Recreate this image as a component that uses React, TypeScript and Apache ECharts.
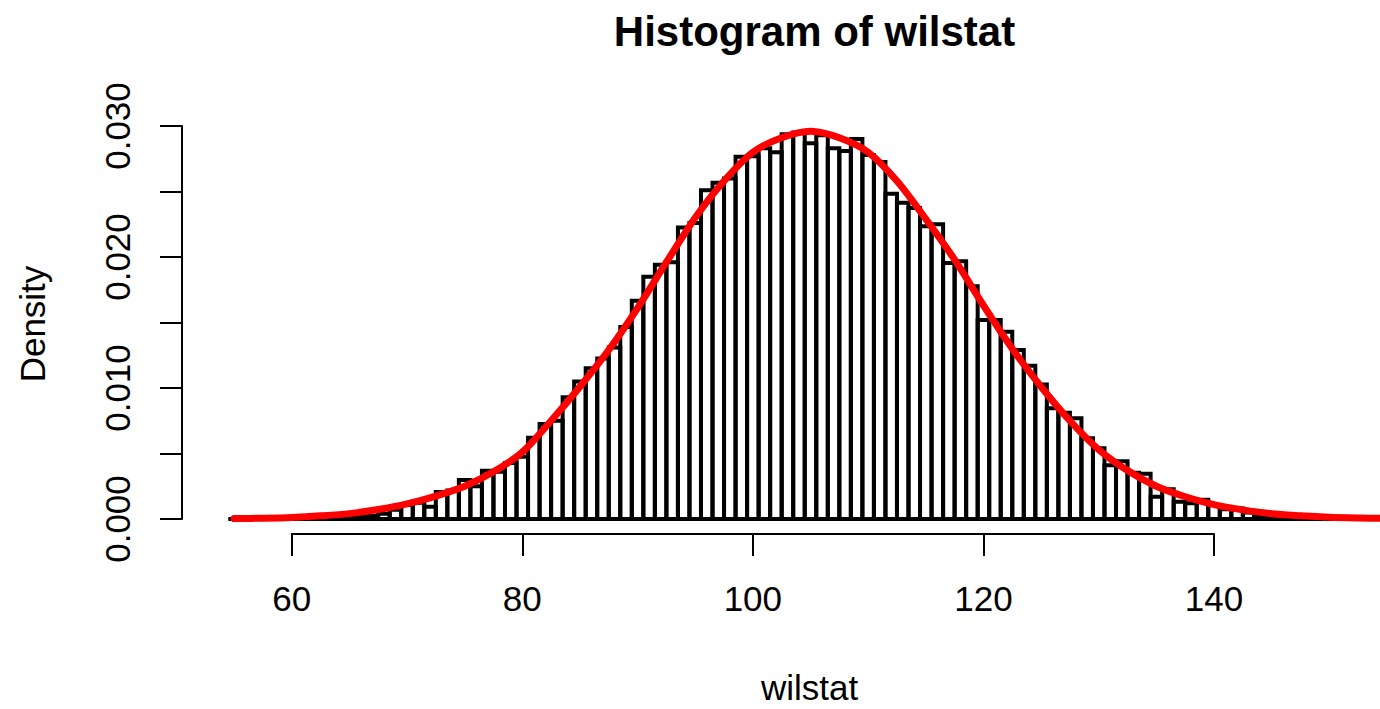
import { useEffect, useRef } from "react";
import * as echarts from "echarts";

// Histogram bins (width 1, centred on integers 55..155)
const binCenters = [
  55, 56, 57, 58, 59, 60, 61, 62, 63, 64, 65, 66, 67, 68, 69, 70, 71, 72, 73, 74,
  75, 76, 77, 78, 79, 80, 81, 82, 83, 84, 85, 86, 87, 88, 89, 90, 91, 92, 93, 94,
  95, 96, 97, 98, 99, 100, 101, 102, 103, 104, 105, 106, 107, 108, 109, 110, 111, 112, 113, 114,
  115, 116, 117, 118, 119, 120, 121, 122, 123, 124, 125, 126, 127, 128, 129, 130, 131, 132, 133, 134,
  135, 136, 137, 138, 139, 140, 141, 142, 143, 144, 145, 146, 147, 148, 149, 150, 151, 152, 153, 154, 155,
];
const binDensity = [
  0, 0, 0, 0, 0, 0, 0, 0,
  0.00002, 0.00004, 0.00008, 0.00015, 0.00025, 0.0004, 0.0007, 0.00107, 0.00125, 0.00094,
  0.00207, 0.00218, 0.00298, 0.0025, 0.00369, 0.0036, 0.00428, 0.00476, 0.0062, 0.00725,
  0.0075, 0.0093, 0.0105, 0.0115, 0.01226, 0.0131, 0.01466, 0.01667, 0.0185, 0.0194,
  0.0196, 0.02226, 0.0226, 0.0251, 0.02567, 0.026, 0.02766, 0.0277, 0.0283, 0.028,
  0.02937, 0.0295, 0.02868, 0.0293, 0.0283, 0.0281, 0.029, 0.02779, 0.02725, 0.02483,
  0.02415, 0.02375, 0.02235, 0.0225, 0.01955, 0.01968, 0.01776, 0.01519, 0.0152, 0.0143,
  0.0129, 0.0117, 0.01027, 0.00845, 0.00812, 0.00769, 0.00616, 0.0054, 0.0041, 0.0044,
  0.00354, 0.00346, 0.0017, 0.00228, 0.00132, 0.0012, 0.00147, 0.00107, 0.00074, 0.0008,
  0.0005, 0.0003, 0.0002, 0.0001, 0.00005, 0, 0, 0, 0, 0,
  0, 0, 0,
];

// Red density curve
const curveX = [
  55, 57.5, 60, 62.5, 65, 67.5, 70, 72.5, 75, 77.5, 80, 82.5, 85, 87.5, 90, 92.5, 95, 97.5, 100, 102.5,
  105, 107.5, 110, 112.5, 115, 117.5, 120, 122.5, 125, 127.5, 130, 132.5, 135, 137.5, 140, 142.5, 145, 147.5,
  150, 152.5, 155,
];
const curveDensity = [
  0.00003, 0.00006, 0.00012, 0.00024, 0.00041, 0.00072, 0.00115, 0.00175, 0.0025, 0.0036,
  0.0051, 0.0075, 0.0101, 0.0129, 0.0161, 0.0196, 0.023, 0.0258, 0.028, 0.0291,
  0.0296, 0.0291, 0.028, 0.0258, 0.0229, 0.0198, 0.0163, 0.013, 0.0101, 0.0075,
  0.0053, 0.0037, 0.0025, 0.0017, 0.0011, 0.0007, 0.0004, 0.00025, 0.00014, 0.00008, 0.00004,
];

const xTicks = [60, 80, 100, 120, 140];
const yTickMin = 0;
const yTickMax = 0.03;
const yTickStep = 0.005;

const FONT = "'Liberation Sans', Arial, Helvetica, sans-serif";

export default function App() {
  const ref = useRef<HTMLDivElement>(null);

  useEffect(() => {
    if (!ref.current) return;
    const chart = echarts.init(ref.current, null, { renderer: "svg" });

    const histData = binCenters.map((c, i) => [c, binDensity[i]]);
    const curveData = curveX.map((x, i) => [x, curveDensity[i]]);

    chart.setOption({
      animation: false,
      backgroundColor: "#ffffff",
      textStyle: { fontFamily: FONT },
      title: {
        text: "Histogram of wilstat",
        left: 809.5,
        textAlign: "center",
        top: 5,
        textStyle: { fontSize: 42, fontWeight: "bold", color: "#000", fontFamily: FONT },
      },
      grid: [
        { left: 182, right: 0, top: 117, height: 418, outerBoundsMode: "none", containLabel: false },
        { left: 182, top: 126, height: 393, width: 10, outerBoundsMode: "none", containLabel: false },
        { left: 291.7, width: 922.3, top: 300, height: 234, outerBoundsMode: "none", containLabel: false },
      ],
      xAxis: [
        { gridIndex: 0, type: "value", min: 50.485, max: 154.397, show: false },
        { gridIndex: 1, type: "value", min: 0, max: 1, show: false },
        {
          gridIndex: 2,
          type: "value",
          min: xTicks[0],
          max: xTicks[xTicks.length - 1],
          interval: xTicks[1] - xTicks[0],
          position: "bottom",
          axisLine: { show: true, lineStyle: { color: "#000", width: 2 } },
          axisTick: { show: true, inside: false, length: 22, lineStyle: { color: "#000", width: 2 } },
          axisLabel: { show: true, fontSize: 35, color: "#000", margin: 47, fontFamily: FONT },
          splitLine: { show: false },
        },
      ],
      yAxis: [
        { gridIndex: 0, type: "value", min: -0.001221, max: 0.030687, show: false },
        {
          gridIndex: 1,
          type: "value",
          min: yTickMin,
          max: yTickMax,
          interval: yTickStep,
          position: "left",
          axisLine: { show: true, lineStyle: { color: "#000", width: 2 } },
          axisTick: { show: true, inside: false, length: 22, lineStyle: { color: "#000", width: 2 } },
          axisLabel: {
            show: true,
            rotate: 90,
            fontSize: 35,
            color: "#000",
            margin: 47,
            fontFamily: FONT,
            formatter: (v: number) => (Math.round(v * 1000) % 10 === 0 ? v.toFixed(3) : ""),
          },
          splitLine: { show: false },
        },
        { gridIndex: 2, type: "value", show: false },
      ],
      series: [
        {
          type: "custom",
          xAxisIndex: 0,
          yAxisIndex: 0,
          data: histData,
          renderItem: (_params: any, api: any) => {
            const k = api.value(0);
            const h = api.value(1);
            const p0 = api.coord([k - 0.5, h]);
            const p1 = api.coord([k + 0.5, 0]);
            return {
              type: "rect",
              shape: { x: p0[0], y: p0[1], width: p1[0] - p0[0], height: p1[1] - p0[1] },
              style: { fill: "none", stroke: "#000", lineWidth: 4 },
            };
          },
          z: 2,
        },
        {
          type: "line",
          xAxisIndex: 0,
          yAxisIndex: 0,
          data: curveData,
          smooth: 0.3,
          showSymbol: false,
          symbol: "none",
          lineStyle: { color: "#ff0000", width: 7, cap: "round", join: "round" },
          z: 3,
        },
      ],
      graphic: [
        {
          type: "text",
          x: 32,
          y: 324,
          rotation: Math.PI / 2,
          style: {
            text: "Density",
            fontSize: 35,
            fontFamily: FONT,
            fill: "#000",
            align: "center",
            verticalAlign: "middle",
            textAlign: "center",
            textVerticalAlign: "middle",
          },
        },
        {
          type: "text",
          x: 809.5,
          y: 687,
          style: {
            text: "wilstat",
            fontSize: 35,
            fontFamily: FONT,
            fill: "#000",
            align: "center",
            verticalAlign: "middle",
            textAlign: "center",
            textVerticalAlign: "middle",
          },
        },
      ],
    });

    return () => chart.dispose();
  }, []);

  return (
    <div
      ref={ref}
      style={{ position: "absolute", left: 0, top: 0, width: 1380, height: 709, background: "#fff" }}
    />
  );
}
